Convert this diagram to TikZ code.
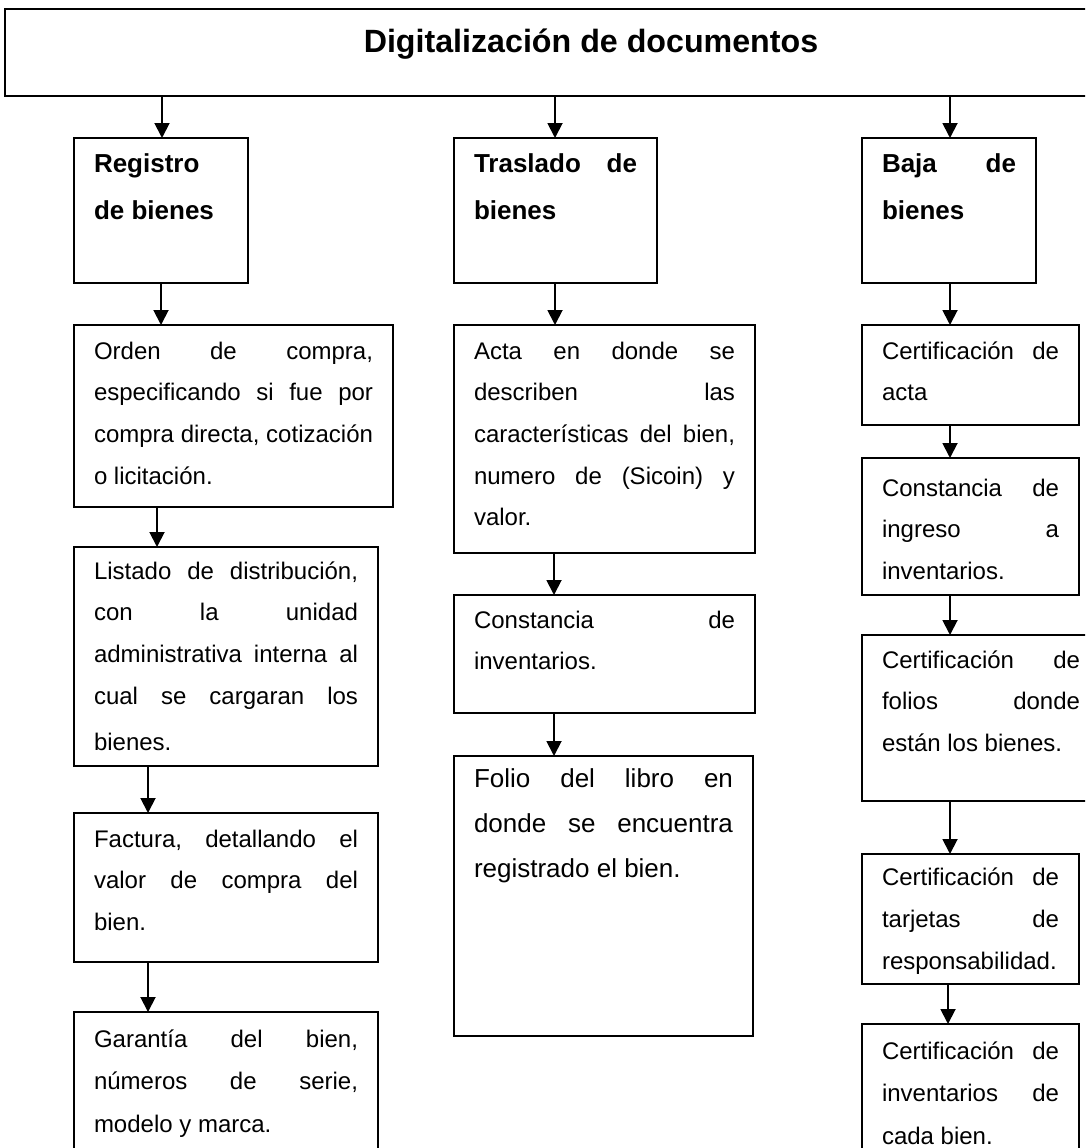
\documentclass[tikz,border=0pt]{standalone}
\usepackage{fontspec}
\setmainfont{Liberation Sans}
\usetikzlibrary{arrows.meta}
\newcommand\J{\hskip 0pt plus 1filll\relax}
\newcommand\bx[6]{\parbox[c][#1pt][t]{#2pt}{\fontsize{#3pt}{#4pt}\selectfont\hyphenpenalty=10000 \exhyphenpenalty=10000 \rule{0pt}{#5pt}#6}}
\tikzset{
  box/.style={draw, line width=1.9pt, anchor=north west, inner sep=0pt, outer sep=0pt},
  arr/.style={line width=1.9pt, -{Triangle[length=15pt,width=15pt]}}
}
\begin{document}
\begin{tikzpicture}[x=1pt,y=-1pt]
\useasboundingbox (0,0) rectangle (1085,1148);
\clip (0,0) rectangle (1085,1148);
\fill[white] (0,0) rectangle (1085,1148);

% title
\node[box, minimum width=1172pt, minimum height=87pt] (top) at (5,9)
  {\bx{87}{1100}{32.2}{38}{44}{\centering\bfseries Digitalización de documentos}};

% column 1
\node[box, minimum width=174pt, minimum height=145pt] (reg) at (74,138)
  {\bx{145}{134}{26}{47}{34}{\bfseries Registro\\ de bienes}};
\node[box, minimum width=319pt, minimum height=182pt] (ord) at (74,325)
  {\bx{182}{279}{24}{41.7}{34}{Orden \J de \J compra,\\ especificando \J si \J fue \J por\\ compra \J directa, \J cotización\\ o licitación.}};
\node[box, minimum width=304pt, minimum height=219pt] (lis) at (74,547)
  {\bx{219}{264}{24}{41.7}{32}{Listado \J de \J distribución,\\ con \J la \J unidad\\ administrativa \J interna \J al\\ cual \J se \J cargaran \J los\\[4.5pt] bienes.}};
\node[box, minimum width=304pt, minimum height=149pt] (fac) at (74,813)
  {\bx{149}{264}{24}{41.7}{34}{Factura, \J detallando \J el\\ valor \J de \J compra \J del\\ bien.}};
\node[box, minimum width=304pt, minimum height=160pt] (gar) at (74,1012)
  {\bx{160}{264}{24}{42.6}{35}{Garantía \J del \J bien,\\ números \J de \J serie,\\ modelo y marca.}};

% column 2
\node[box, minimum width=203pt, minimum height=145pt] (tra) at (454,138)
  {\bx{145}{163}{26}{47}{34}{\bfseries Traslado \J de\\ bienes}};
\node[box, minimum width=301pt, minimum height=228pt] (act) at (454,325)
  {\bx{228}{261}{24}{41.7}{34}{Acta \J en \J donde \J se\\ describen \J las\\ características \J del \J bien,\\ numero \J de \J (Sicoin) \J y\\ valor.}};
\node[box, minimum width=301pt, minimum height=118pt] (con) at (454,595)
  {\bx{118}{261}{24}{41.7}{33}{Constancia \J de\\ inventarios.}};
\node[box, minimum width=299pt, minimum height=280pt] (fol) at (454,756)
  {\bx{280}{259}{26}{45}{31}{Folio \J del \J libro \J en\\ donde \J se \J encuentra\\ registrado el bien.}};

% column 3
\node[box, minimum width=174pt, minimum height=145pt] (baj) at (862,138)
  {\bx{145}{134}{26}{47}{34}{\bfseries Baja \J de\\ bienes}};
\node[box, minimum width=217pt, minimum height=100pt] (cac) at (862,325)
  {\bx{100}{177}{24}{41.7}{34}{Certificación \J de\\ acta}};
\node[box, minimum width=217pt, minimum height=137pt] (cin) at (862,458)
  {\bx{137}{177}{24}{41.7}{38}{Constancia \J de\\ ingreso \J a\\ inventarios.}};
\node[box, minimum width=238pt, minimum height=166pt] (cfo) at (862,635)
  {\bx{166}{198}{24}{41.7}{33}{Certificación \J de\\ folios \J donde\\ están los bienes.}};
\node[box, minimum width=217pt, minimum height=130pt] (cta) at (862,854)
  {\bx{130}{177}{24}{42.2}{31}{Certificación \J de\\ tarjetas \J de\\ responsabilidad.}};
\node[box, minimum width=217pt, minimum height=150pt] (cinv) at (862,1024)
  {\bx{150}{177}{24}{42.6}{35}{Certificación \J de\\ inventarios \J de\\ cada bien.}};

% arrow columns
\coordinate (xa1) at (162,0);
\coordinate (xa2) at (161,0);
\coordinate (xa3) at (157,0);
\coordinate (xa4) at (148,0);
\coordinate (xb) at (555,0);
\coordinate (xb2) at (554,0);
\coordinate (xc) at (950,0);
\coordinate (xc2) at (948,0);

\draw[arr] (top.south -| xa1) -- (reg.north -| xa1);
\draw[arr] (reg.south -| xa2) -- (ord.north -| xa2);
\draw[arr] (ord.south -| xa3) -- (lis.north -| xa3);
\draw[arr] (lis.south -| xa4) -- (fac.north -| xa4);
\draw[arr] (fac.south -| xa4) -- (gar.north -| xa4);

\draw[arr] (top.south -| xb) -- (tra.north -| xb);
\draw[arr] (tra.south -| xb) -- (act.north -| xb);
\draw[arr] (act.south -| xb2) -- (con.north -| xb2);
\draw[arr] (con.south -| xb2) -- (fol.north -| xb2);

\draw[arr] (top.south -| xc) -- (baj.north -| xc);
\draw[arr] (baj.south -| xc) -- (cac.north -| xc);
\draw[arr] (cac.south -| xc) -- (cin.north -| xc);
\draw[arr] (cin.south -| xc) -- (cfo.north -| xc);
\draw[arr] (cfo.south -| xc) -- (cta.north -| xc);
\draw[arr] (cta.south -| xc2) -- (cinv.north -| xc2);
\end{tikzpicture}
\end{document}
